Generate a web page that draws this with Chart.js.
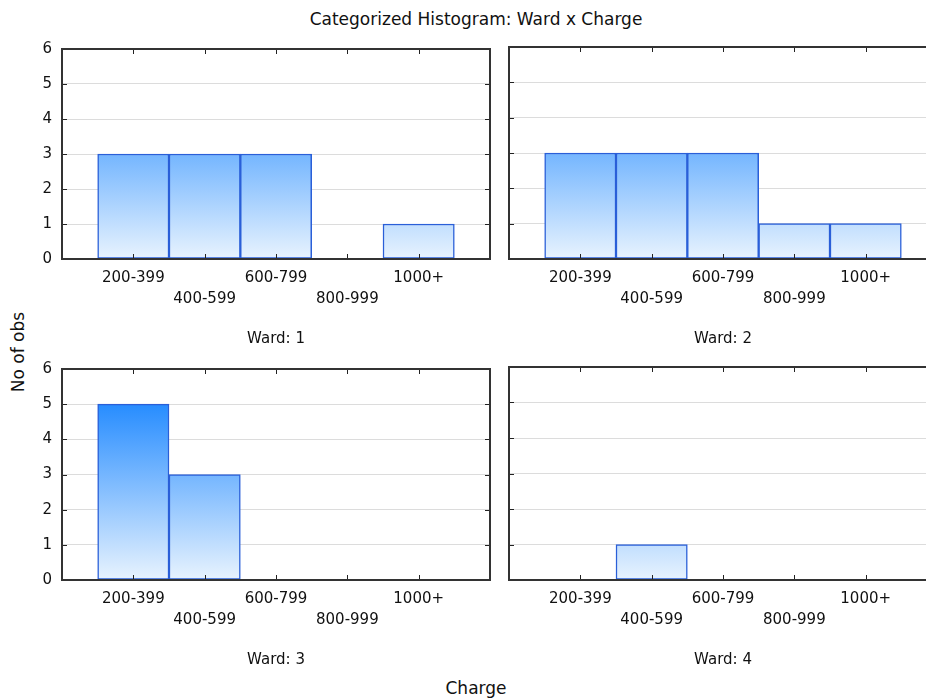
<!DOCTYPE html>
<html>
<head>
<meta charset="utf-8">
<script src="https://cdn.jsdelivr.net/npm/chart.js@4.4.0/dist/chart.umd.min.js"></script>
<style>
  body { margin: 0; width: 926px; height: 700px; overflow: hidden; background: #fff; position: relative; font-family: "DejaVu Sans", sans-serif; color: #111; }
  .panel { position: absolute; }
  .txt { position: absolute; white-space: nowrap; line-height: 20px; height: 20px; text-align: center; }
</style>
</head>
<body>
<div class="txt" style="left:0;width:952px;top:9px;font-size:17px;">Categorized Histogram: Ward x Charge</div>
<div class="txt" style="left:0;width:952px;top:678px;font-size:17px;">Charge</div>
<div class="txt" style="left:-32px;width:100px;top:342px;font-size:17px;transform:rotate(-90deg);">No of obs</div>

<div class="panel" style="left:0;top:30px;"><canvas id="w1" width="500" height="320"></canvas></div>
<div class="panel" style="left:500px;top:30px;"><canvas id="w2" width="500" height="320"></canvas></div>
<div class="panel" style="left:0;top:350px;"><canvas id="w3" width="500" height="321"></canvas></div>
<div class="panel" style="left:500px;top:350px;"><canvas id="w4" width="500" height="321"></canvas></div>

<script>
// charge classes and counts per ward
const chargeLabels = ["200-399", "400-599", "600-799", "800-999", "1000+"];
const ward1 = [3, 3, 3, 0, 1];
const ward2 = [3, 3, 3, 1, 1];
const ward3 = [5, 3, 0, 0, 0];
const ward4 = [0, 1, 0, 0, 0];
const yTicks = [0, 1, 2, 3, 4, 5, 6];

const tickFont = { family: "DejaVu Sans", size: 15 };

// box round the plot area, with small inner tick marks
const framePlugin = {
  id: "frame",
  afterDatasetsDraw(chart) {
    const { ctx, chartArea: a, scales } = chart;
    ctx.save();
    ctx.strokeStyle = "#222";
    ctx.lineWidth = 1;
    ctx.beginPath();
    chargeLabels.forEach((_, i) => {
      const px = Math.round(scales.x.getPixelForValue(i + 1)) + 0.5;
      ctx.moveTo(px, a.bottom); ctx.lineTo(px, a.bottom - 5);
      ctx.moveTo(px, a.top); ctx.lineTo(px, a.top + 5);
    });
    yTicks.slice(1, -1).forEach(v => {
      const py = Math.round(scales.y.getPixelForValue(v)) + 0.5;
      ctx.moveTo(a.left, py); ctx.lineTo(a.left + 5, py);
      ctx.moveTo(a.right, py); ctx.lineTo(a.right - 5, py);
    });
    ctx.stroke();
    ctx.lineWidth = 2;
    ctx.strokeStyle = "#333";
    ctx.strokeRect(a.left, a.top, a.right - a.left, a.bottom - a.top);
    ctx.restore();
  }
};

function makePanel(id, counts, title, showY, yWidth, padRight) {
  new Chart(document.getElementById(id), {
    type: "bar",
    data: {
      datasets: [{
        data: counts.map((c, i) => ({ x: i + 1, y: c === 0 ? null : c })),
        backgroundColor: (c) => {
          const a = c.chart.chartArea;
          if (!a) return "#9ccafc";
          const g = c.chart.ctx.createLinearGradient(0, a.bottom, 0, a.top);
          g.addColorStop(0, "#e8f3fe");
          g.addColorStop(1, "#0078ff");
          return g;
        },
        borderColor: "#2a5fd8",
        borderWidth: 1.5,
        borderSkipped: false,
        barPercentage: 1,
        categoryPercentage: 1
      }]
    },
    options: {
      responsive: false,
      animation: false,
      events: [],
      layout: { padding: { top: 17, right: padRight, left: 0, bottom: 0 } },
      plugins: { legend: { display: false }, tooltip: { enabled: false } },
      scales: {
        x: {
          type: "linear",
          min: 0,
          max: 6,
          offset: false,
          grid: { display: false, drawTicks: false, offset: false },
          border: { display: false },
          ticks: {
            stepSize: 1,
            autoSkip: false,
            maxRotation: 0,
            padding: 9,
            color: "#111",
            font: { ...tickFont, lineHeight: 1.4 },
            callback: (v) => {
              const i = v - 1;
              if (i < 0 || i >= chargeLabels.length) return "";
              return i % 2 === 0 ? [chargeLabels[i], ""] : ["", chargeLabels[i]];
            }
          },
          title: {
            display: true,
            text: title,
            color: "#111",
            font: { ...tickFont, lineHeight: 1.47 },
            padding: 0
          },
          afterFit: (s) => { s.height = 91; }
        },
        y: {
          min: 0,
          max: 6,
          grid: { color: "#dcdcdc", lineWidth: 1, drawTicks: false },
          border: { display: false },
          ticks: {
            display: showY,
            stepSize: 1,
            padding: 10,
            color: "#111",
            font: tickFont
          },
          afterFit: (s) => { s.width = yWidth; }
        }
      }
    },
    plugins: [framePlugin]
  });
}

makePanel("w1", ward1, "Ward: 1", true, 62, 10);
makePanel("w2", ward2, "Ward: 2", false, 9, 63);
makePanel("w3", ward3, "Ward: 3", true, 62, 10);
makePanel("w4", ward4, "Ward: 4", false, 9, 63);
</script>
</body>
</html>
